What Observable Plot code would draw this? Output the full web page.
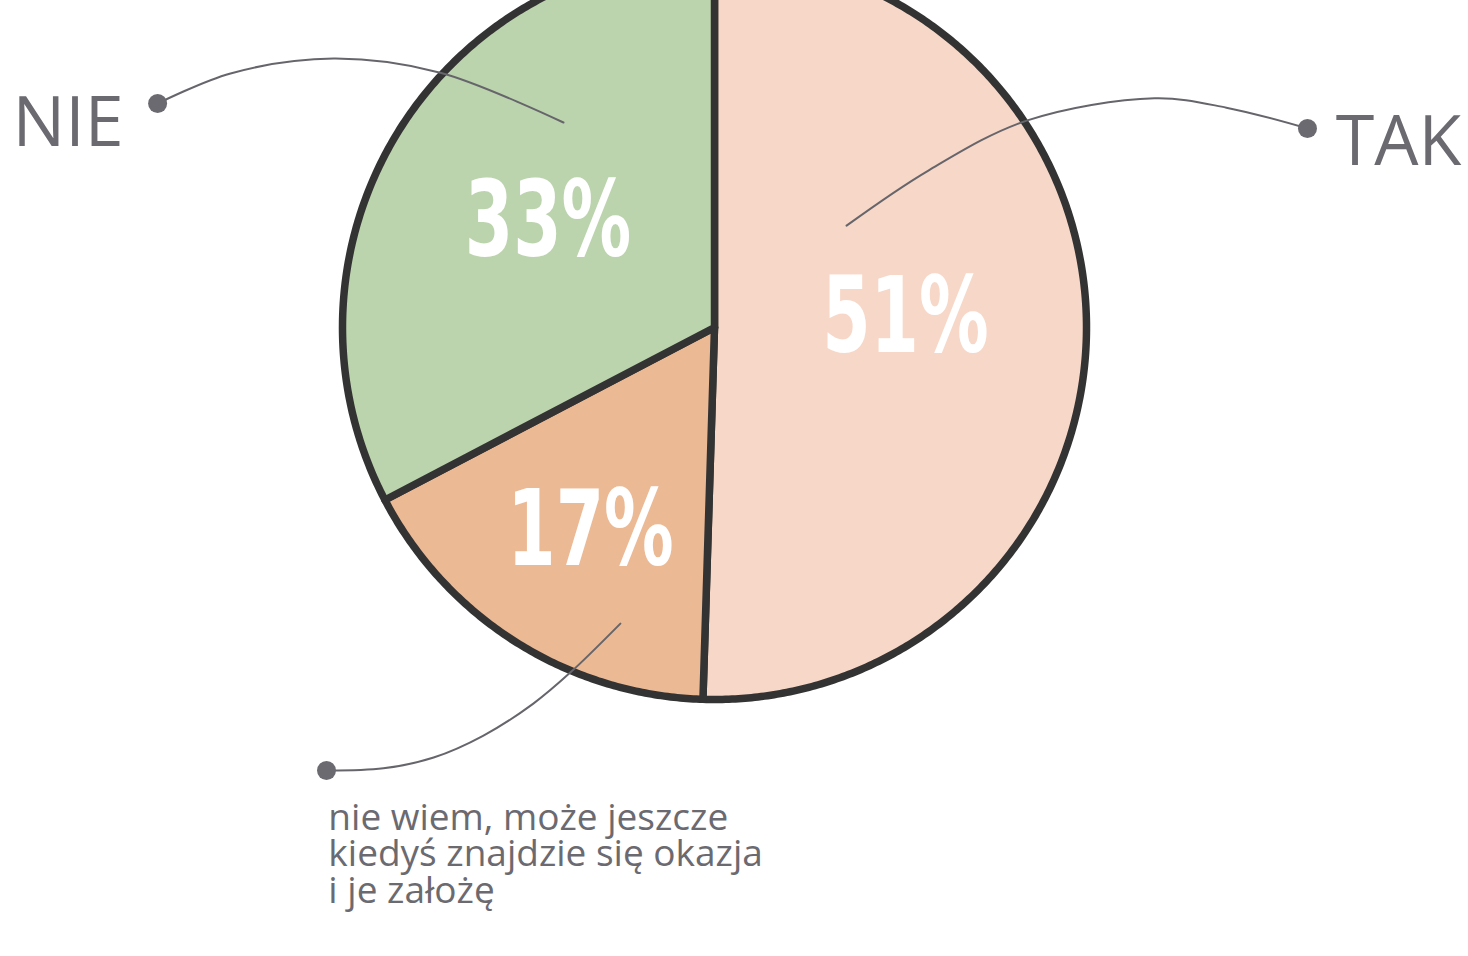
<!DOCTYPE html>
<html>
<head>
<meta charset="utf-8">
<script src="https://cdn.jsdelivr.net/npm/d3@7"></script>
<script src="https://cdn.jsdelivr.net/npm/@observablehq/plot@0.6"></script>
<style>
  html, body { margin: 0; padding: 0; background: #ffffff; }
  #chart svg { display: block; }
</style>
</head>
<body>
<div id="chart"></div>
<script>
// ---------- DATA ----------
const categories = ["TAK", "nie wiem", "NIE"];
const categoryLabels = ["TAK", "nie wiem, może jeszcze\nkiedyś znajdzie się okazja\ni je założę", "NIE"];
const values = [51, 17, 33];
const valueLabels = ["51%", "17%", "33%"];
const sliceColors = ["#f7d7c7", "#ecb995", "#bcd4ad"];

// ---------- LAYOUT (unit = pie radius, origin = pie centre, y up) ----------
const W = 1468, H = 956, R = 372, CX = 714, CY = 327;
const xDomain = [-CX / R, (W - CX) / R];
const yDomain = [-(H - CY) / R, CY / R];
const valueLabelRadius = [0.514, 0.640, 0.530];
const valueLabelAngleNudge = [-3.7, -0.7, 1.2]; // degrees
const valueLabelSqueeze = 0.73;
const leaderPaths = [
  [[0.355, 0.274], [0.575, 0.422], [0.839, 0.556], [1.183, 0.616], [1.376, 0.591], [1.594, 0.535]],
  [[-0.253, -0.796], [-0.387, -0.927], [-0.487, -1.011], [-0.621, -1.097], [-0.755, -1.156], [-0.890, -1.185], [-1.043, -1.191]],
  [[-0.406, 0.551], [-0.737, 0.685], [-1.024, 0.723], [-1.301, 0.683], [-1.497, 0.602]]
];
const bigLabelPos = {TAK: [1.670, 0.496], NIE: [-1.887, 0.548]};
const smallLabelPos = [-1.038, -1.280];

// ---------- GEOMETRY FROM DATA ----------
const arcs = d3.pie().sort(null).value(d => d)(values);
const slicePts = [];
arcs.forEach((a, i) => {
  const cat = categories[i];
  slicePts.push({cat, x: 0, y: 0});
  const n = Math.max(2, Math.ceil((a.endAngle - a.startAngle) / (Math.PI / 360)));
  for (let k = 0; k <= n; k++) {
    const t = a.startAngle + (a.endAngle - a.startAngle) * k / n;
    slicePts.push({cat, x: Math.sin(t), y: Math.cos(t)});
  }
  slicePts.push({cat, x: 0, y: 0});
});

const valueLabelRows = arcs.map((a, i) => {
  const mid = (a.startAngle + a.endAngle) / 2 + valueLabelAngleNudge[i] * Math.PI / 180;
  const r = valueLabelRadius[i];
  return {label: valueLabels[i], x: r * Math.sin(mid), y: r * Math.cos(mid)};
});

const leaderRows = [];
leaderPaths.forEach((pts, i) => pts.forEach(([x, y]) => leaderRows.push({cat: categories[i], x, y})));
const leaderEnds = leaderPaths.map((pts, i) => ({cat: categories[i], x: pts[pts.length - 1][0], y: pts[pts.length - 1][1]}));

const bigLabels = ["TAK", "NIE"].map(c => ({text: categoryLabels[categories.indexOf(c)], x: bigLabelPos[c][0], y: bigLabelPos[c][1]}));
const smallLabels = [{text: categoryLabels[1], x: smallLabelPos[0], y: smallLabelPos[1]}];

const labelGrey = "#6b6a70";

const chart = Plot.plot({
  width: W,
  height: H,
  margin: 0,
  style: {background: "#ffffff", overflow: "hidden"},
  x: {domain: xDomain, axis: null},
  y: {domain: yDomain, axis: null},
  color: {domain: categories, range: sliceColors},
  marks: [
    Plot.line(slicePts, {x: "x", y: "y", z: "cat", fill: "cat", stroke: "#333333", strokeWidth: 7.5, strokeLinejoin: "round", curve: "linear"}),
    Plot.line(leaderRows, {x: "x", y: "y", z: "cat", stroke: "#66656b", strokeWidth: 2, curve: "catmull-rom"}),
    Plot.dot(leaderEnds, {x: "x", y: "y", r: 9.5, fill: labelGrey, stroke: "none"}),
    Plot.text(valueLabelRows, {x: "x", y: "y", text: "label", fill: "#ffffff", fontSize: 106, fontWeight: "bold",
      fontFamily: "'Liberation Sans Narrow', 'DejaVu Sans Condensed', 'Roboto Condensed', sans-serif"}),
    Plot.text(bigLabels, {x: "x", y: "y", text: "text", fill: labelGrey, fontSize: 70, fontWeight: 400, textAnchor: "start",
      fontFamily: "'Open Sans', sans-serif"}),
    Plot.text(smallLabels, {x: "x", y: "y", text: "text", fill: labelGrey, fontSize: 37, fontWeight: 400, textAnchor: "start",
      lineAnchor: "top", lineHeight: 0.99, fontFamily: "'Open Sans', sans-serif"})
  ]
});
document.getElementById("chart").append(chart);

// condense the big percentage figures horizontally (they stay real text)
chart.querySelectorAll("text").forEach(t => {
  if (valueLabels.includes(t.textContent)) {
    const w = t.getComputedTextLength();
    if (w > 0) {
      t.setAttribute("textLength", (w * valueLabelSqueeze).toFixed(1));
      t.setAttribute("lengthAdjust", "spacingAndGlyphs");
    }
  }
});
</script>
</body>
</html>
